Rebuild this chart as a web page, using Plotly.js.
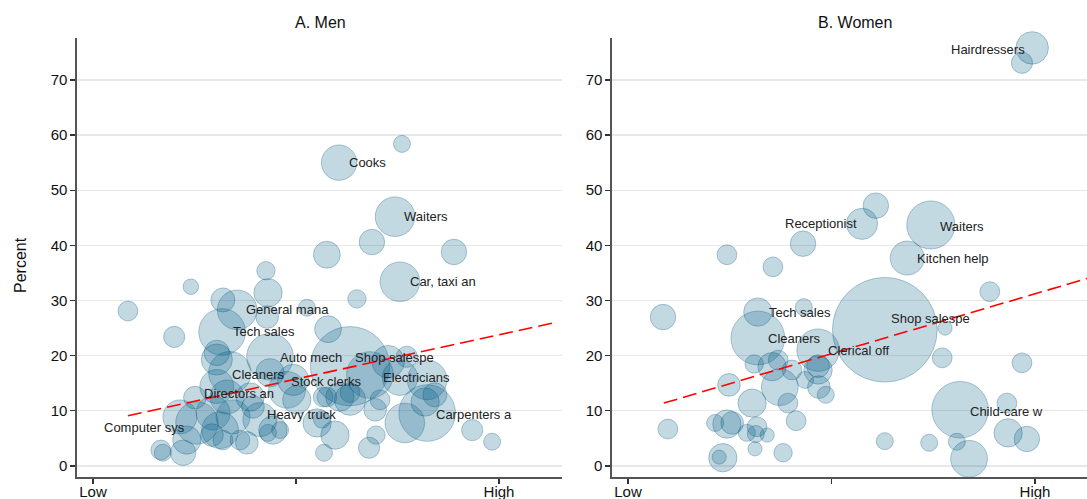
<!DOCTYPE html>
<html>
<head>
<meta charset="utf-8">
<script src="https://cdn.plot.ly/plotly-3.0.1.min.js"></script>
<style>
  html, body { margin:0; padding:0; background:#fff; }
  #chart { width:1087px; height:499px; }
</style>
</head>
<body>
<div id="chart"></div>
<script>
// ---------------- data (x: Low=0 .. High=1, y: percent, w: bubble weight) ----------------

// A. Men
const menX = [0.086,0.241,0.200,0.320,0.355,0.318,0.426,0.431,0.429,0.527,
              0.436,0.579,0.576,0.606,0.761,0.744,0.687,0.889,0.756,0.650,
              0.633,0.682,0.727,0.773,0.756,0.823,0.842,0.823,0.818,0.768,
              0.934,0.983,0.697,0.680,0.569,0.596,0.552,0.695,0.707,0.633,
              0.633,0.576,0.608,0.167,0.172,0.222,0.231,0.214,0.256,0.251,
              0.296,0.313,0.293,0.320,0.362,0.379,0.345,0.305,0.330,0.305,
              0.305,0.337,0.387,0.394,0.411,0.443,0.431,0.461,0.478,0.502,
              0.493,0.436,0.567,0.564];
const menY = [28.1,32.5,23.4,30.1,28.3,24.3,35.4,31.4,27.0,28.7,
              19.8,24.8,38.3,55.0,58.4,45.2,40.6,38.8,33.4,30.3,
              18.1,16.5,18.9,19.8,16.0,15.6,12.9,9.6,11.6,7.8,
              6.5,4.4,5.6,3.3,2.4,5.6,7.8,10.2,12.0,12.0,
              13.3,12.5,12.5,2.9,2.4,2.4,4.7,8.9,7.8,12.4,
              9.6,6.5,5.6,4.7,4.7,4.2,8.9,14.4,12.5,19.3,
              20.5,16.9,12.5,10.7,8.4,6.5,6.0,6.5,13.8,12.0,
              15.6,16.9,12.5,8.4];
const menW = [49,30,56,72,196,272,42,100,64,36,
              272,90,90,156,36,196,81,81,196,42,
              784,272,132,56,156,196,72,400,100,196,
              56,36,42,56,36,100,100,64,49,121,
              49,49,100,49,36,81,100,144,225,64,
              144,169,64,49,49,64,144,144,144,121,
              81,225,100,64,144,100,36,36,169,100,
              121,100,49,36];

const menLabel  = ['Cooks','Waiters','Car, taxi an','General mana','Tech sales','Auto mech',
                   'Shop salespe','Cleaners','Electricians','Stock clerks','Directors an',
                   'Heavy truck','Carpenters a','Computer sys'];
const menLabelX = [0.626,0.761,0.776,0.372,0.340,0.456,0.640,0.337,0.709,0.483,0.268,0.424,0.840,0.022];
const menLabelY = [55.0,45.2,33.5,28.3,24.3,19.6,19.6,16.5,16.0,15.4,13.2,9.4,9.4,6.9];

const menFitX = [0.086, 1.131];
const menFitY = [9.1, 25.9];

// B. Women
const womenX = [0.086,0.098,0.243,0.356,0.430,0.319,0.432,0.319,0.310,0.354,
                0.369,0.403,0.373,0.393,0.435,0.467,0.467,0.467,0.469,0.486,
                0.248,0.305,0.214,0.243,0.256,0.292,0.317,0.314,0.342,0.312,
                0.381,0.413,0.233,0.224,0.609,0.575,0.744,0.686,0.889,0.631,
                0.779,0.772,0.968,0.816,0.931,0.934,0.980,0.838,0.808,0.740,
                0.631,0.993,0.968];
const womenY = [27.0,6.7,38.3,36.1,40.3,27.9,28.8,23.2,18.5,18.0,
                19.2,17.4,14.3,11.4,15.6,21.0,17.4,18.1,14.3,12.9,
                14.7,11.4,7.8,7.6,7.8,6.0,7.1,5.8,5.6,3.1,
                2.4,8.2,1.5,1.6,47.2,43.9,43.7,37.7,31.6,24.7,
                25.0,19.6,18.7,10.2,11.4,6.0,4.9,1.3,4.4,4.2,
                4.5,75.8,73.1];
const womenW = [81,49,49,49,81,100,36,361,42,100,
                49,49,169,49,36,225,100,64,64,36,
                64,100,36,100,64,36,49,36,25,25,
                42,49,100,25,81,121,289,144,49,1369,
                25,49,49,400,49,100,81,169,36,36,
                36,132,56];

const womenLabel  = ['Hairdressers','Receptionist','Waiters','Kitchen help','Tech sales',
                     'Shop salespe','Cleaners','Clerical off','Child-care w'];
const womenLabelX = [0.789,0.381,0.762,0.705,0.341,0.641,0.339,0.486,0.835];
const womenLabelY = [75.6,43.9,43.5,37.7,27.8,26.7,23.2,20.9,9.8];

const womenFitX = [0.088, 1.128];
const womenFitY = [11.4, 34.0];

const xTickVals = [0, 0.5, 1];
const xTickText = ['Low', '', 'High'];
const yTickVals = [0, 10, 20, 30, 40, 50, 60, 70];

// ---------------- drawing ----------------
const FONT = 'Liberation Sans, Arial, sans-serif';
const bubbleFill = 'rgba(0,92,135,0.33)';
const bubbleLine = 'rgba(0,80,120,0.45)';

function bubbles(x, y, w, xa, ya){
    return {
        x: x, y: y, xaxis: xa, yaxis: ya,
        type: 'scatter', mode: 'markers', hoverinfo: 'skip', cliponaxis: false,
        marker: { size: w, sizemode: 'area', sizeref: 0.25,
                  color: bubbleFill, line: { color: bubbleLine, width: 1 } }
    };
}
function fit(x, y, xa, ya){
    return {
        x: x, y: y, xaxis: xa, yaxis: ya,
        type: 'scatter', mode: 'lines', hoverinfo: 'skip',
        line: { color: '#ff0000', width: 1.6, dash: '14px,6px' }
    };
}

const data = [
    bubbles(menX, menY, menW, 'x', 'y'),
    fit(menFitX, menFitY, 'x', 'y'),
    bubbles(womenX, womenY, womenW, 'x2', 'y2'),
    fit(womenFitX, womenFitY, 'x2', 'y2')
];

let annotations = [];
function addLabels(txt, xs, ys, xr, yr){
    for(let i=0;i<txt.length;i++){
        annotations.push({ x: xs[i], y: ys[i], xref: xr, yref: yr, text: txt[i],
                           showarrow: false, xanchor: 'left', yanchor: 'middle',
                           font: { family: FONT, size: 13, color: '#222' } });
    }
}
addLabels(menLabel, menLabelX, menLabelY, 'x', 'y');
addLabels(womenLabel, womenLabelX, womenLabelY, 'x2', 'y2');

annotations.push({ text: 'A. Men', x: 320/1087, y: 1 - 22/499, xref: 'paper', yref: 'paper',
                   showarrow: false, xanchor: 'center', yanchor: 'middle',
                   font: { family: FONT, size: 16, color: '#111' } });
annotations.push({ text: 'B. Women', x: 855/1087, y: 1 - 22/499, xref: 'paper', yref: 'paper',
                   showarrow: false, xanchor: 'center', yanchor: 'middle',
                   font: { family: FONT, size: 16, color: '#111' } });
annotations.push({ text: 'Percent', x: 20/1087, y: 1 - 265/499, xref: 'paper', yref: 'paper',
                   showarrow: false, textangle: -90, xanchor: 'center', yanchor: 'middle',
                   font: { family: FONT, size: 16, color: '#111' } });

function xAxis(domain, range){
    return { domain: domain, range: range, tickvals: xTickVals, ticktext: xTickText,
             ticks: 'outside', ticklen: 5, tickcolor: '#333', tickwidth: 1.3,
             ticklabelstandoff: -5,
             showline: true, linecolor: '#555', linewidth: 1.6, showgrid: false, zeroline: false,
             tickfont: { family: FONT, size: 15, color: '#111' }, fixedrange: true };
}
function yAxis(domain, anchor){
    return { domain: domain, range: [-2, 77.6], tickvals: yTickVals, anchor: anchor,
             ticks: 'outside', ticklen: 5, tickcolor: '#333', tickwidth: 1.3,
             showline: true, linecolor: '#555', linewidth: 1.6,
             showgrid: true, gridcolor: '#e8e8e8', gridwidth: 1.2, zeroline: false,
             tickfont: { family: FONT, size: 15, color: '#111' }, fixedrange: true };
}

const yDom = [22/499, 1 - 38/499];
const layout = {
    width: 1087, height: 499,
    margin: { l: 0, r: 0, t: 0, b: 0 },
    paper_bgcolor: '#fff', plot_bgcolor: '#fff',
    showlegend: false,
    xaxis:  xAxis([77/1087, 562/1087], [(77-93)/406, (562-93)/406]),
    yaxis:  yAxis(yDom, 'x'),
    xaxis2: Object.assign(xAxis([612/1087, 1], [(612-628)/407, (1087-628)/407]), { anchor: 'y2' }),
    yaxis2: yAxis(yDom, 'x2'),
    annotations: annotations
};
layout.xaxis.anchor = 'y';

Plotly.newPlot('chart', data, layout, { staticPlot: true, displayModeBar: false });
</script>
</body>
</html>
